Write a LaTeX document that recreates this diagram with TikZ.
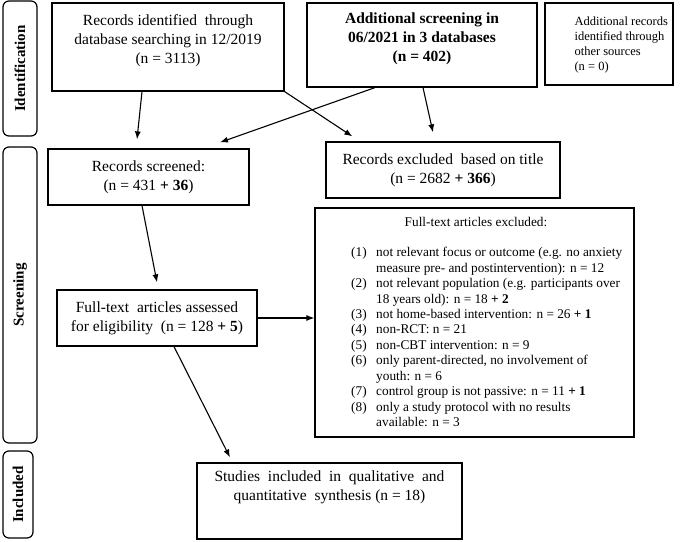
\documentclass[tikz,border=0pt]{standalone}
\usepackage{fontspec}
\setmainfont{Liberation Serif}
\usetikzlibrary{arrows.meta}

\begin{document}
\begin{tikzpicture}[x=1pt, y=-1pt,
	box/.style={draw, line width=1.2pt, align=center, font=\fontsize{15.5}{19}\selectfont},
	sidebox/.style={draw, line width=1.2pt, rounded corners=6pt, rotate=90, font=\fontsize{15}{18}\selectfont\bfseries},
	arr/.style={-{Latex[length=8pt, width=6pt]}, line width=1.1pt},
	]

	\useasboundingbox (0,0) rectangle (688,541);

	% 左侧阶段标签
	\foreach \x/\y/\len/\thk/\nm/\txt in {20/68.5/135/34/ident/Identification, 20/295/296/34/screen/Screening, 18/494.5/87/30/incl/Included} {
			\node[sidebox, minimum width=\len pt, minimum height=\thk pt] (\nm) at (\x,\y) {\txt};
		}

	% 第一排
	\node[box, minimum width=232pt, minimum height=88pt] (db) at (168,47) {Records identified\ \ through\\database searching in 12/2019\\(n = 3113)\\[-4pt]\mbox{}};
	\node[box, font=\fontsize{15.5}{19}\selectfont\bfseries, minimum width=230pt, minimum height=84pt] (add) at (422,45) {Additional screening in\\06/2021 in 3 databases\\(n = 402)\\[-4pt]\mbox{}};
	\node[box, minimum width=128pt, minimum height=82pt] (oth) at (609,44) {};
	\node[anchor=west, align=left, font=\fontsize{12.5}{15}\selectfont] (othtext) at (571,44.5) {Additional records\\identified through\\other sources\\(n = 0)};

	% 第二排
	\node[box, minimum width=201pt, minimum height=56pt] (scr) at (148.5,177) {Records screened:\\(n = 431 \textbf{+ 36})};
	\node[box, minimum width=234pt, minimum height=56pt] (exc) at (443,170) {Records excluded\ \ based on title\\(n = 2682 \textbf{+ 366})};

	% 全文筛选
	\node[box, minimum width=200pt, minimum height=56pt] (elig) at (157,318) {Full-text\ \ articles assessed\\for eligibility\ \ (n = 128 \textbf{+ 5})};
	\node[box, minimum width=319pt, minimum height=229pt] (ftx) at (474.5,322.5) {};
	\node[font=\fontsize{13.3}{15.45}\selectfont] (ftxhead) at (476,222) {Full-text articles excluded:};
	\node[anchor=north west, inner sep=0pt, font=\fontsize{13.3}{15.45}\selectfont] (ftxlist) at (351,245.7) {%
		\begin{tabular}{@{}l@{\hspace{9.5pt}}l@{}}
			(1) & not relevant focus or outcome (e.g. no anxiety \\
			    & measure pre- and postintervention): n = 12 \\
			(2) & not relevant population (e.g. participants over \\
			    & 18 years old): n = 18 \textbf{+ 2} \\
			(3) & not home-based intervention: n = 26 \textbf{+ 1} \\
			(4) & non-RCT: n = 21 \\
			(5) & non-CBT intervention: n = 9 \\
			(6) & only parent-directed, no involvement of \\
			    & youth: n = 6 \\
			(7) & control group is not passive: n = 11 \textbf{+ 1} \\
			(8) & only a study protocol with no results \\
			    & available: n = 3
		\end{tabular}};

	% 纳入
	\node[box, minimum width=265pt, minimum height=76pt] (inc) at (329.5,501) {Studies\ \ included\ \ in\ \ qualitative\ \ and\\quantitative\ \ synthesis (n = 18)\\[11pt]\mbox{}};

	% 箭头
	\draw[arr] ([xshift=-26pt]db.south) -- ([xshift=-11.5pt, yshift=9pt]scr.north);
	\draw[arr] (db.south east) -- ([xshift=27pt, yshift=5pt]exc.north west);
	\draw[arr] ([xshift=-47pt]add.south) -- ([xshift=71.5pt, yshift=6pt]scr.north);
	\draw[arr] ([xshift=1pt]add.south) -- ([xshift=-10pt, yshift=9pt]exc.north);
	\draw[arr] ([xshift=-6.5pt]scr.south) -- ([yshift=7pt]elig.north);
	\draw[arr] (elig.east) -- (elig.east -| ftx.west);
	\draw[arr] ([xshift=17pt]elig.south) -- ([xshift=-99.5pt, yshift=5pt]inc.north);

\end{tikzpicture}
\end{document}
